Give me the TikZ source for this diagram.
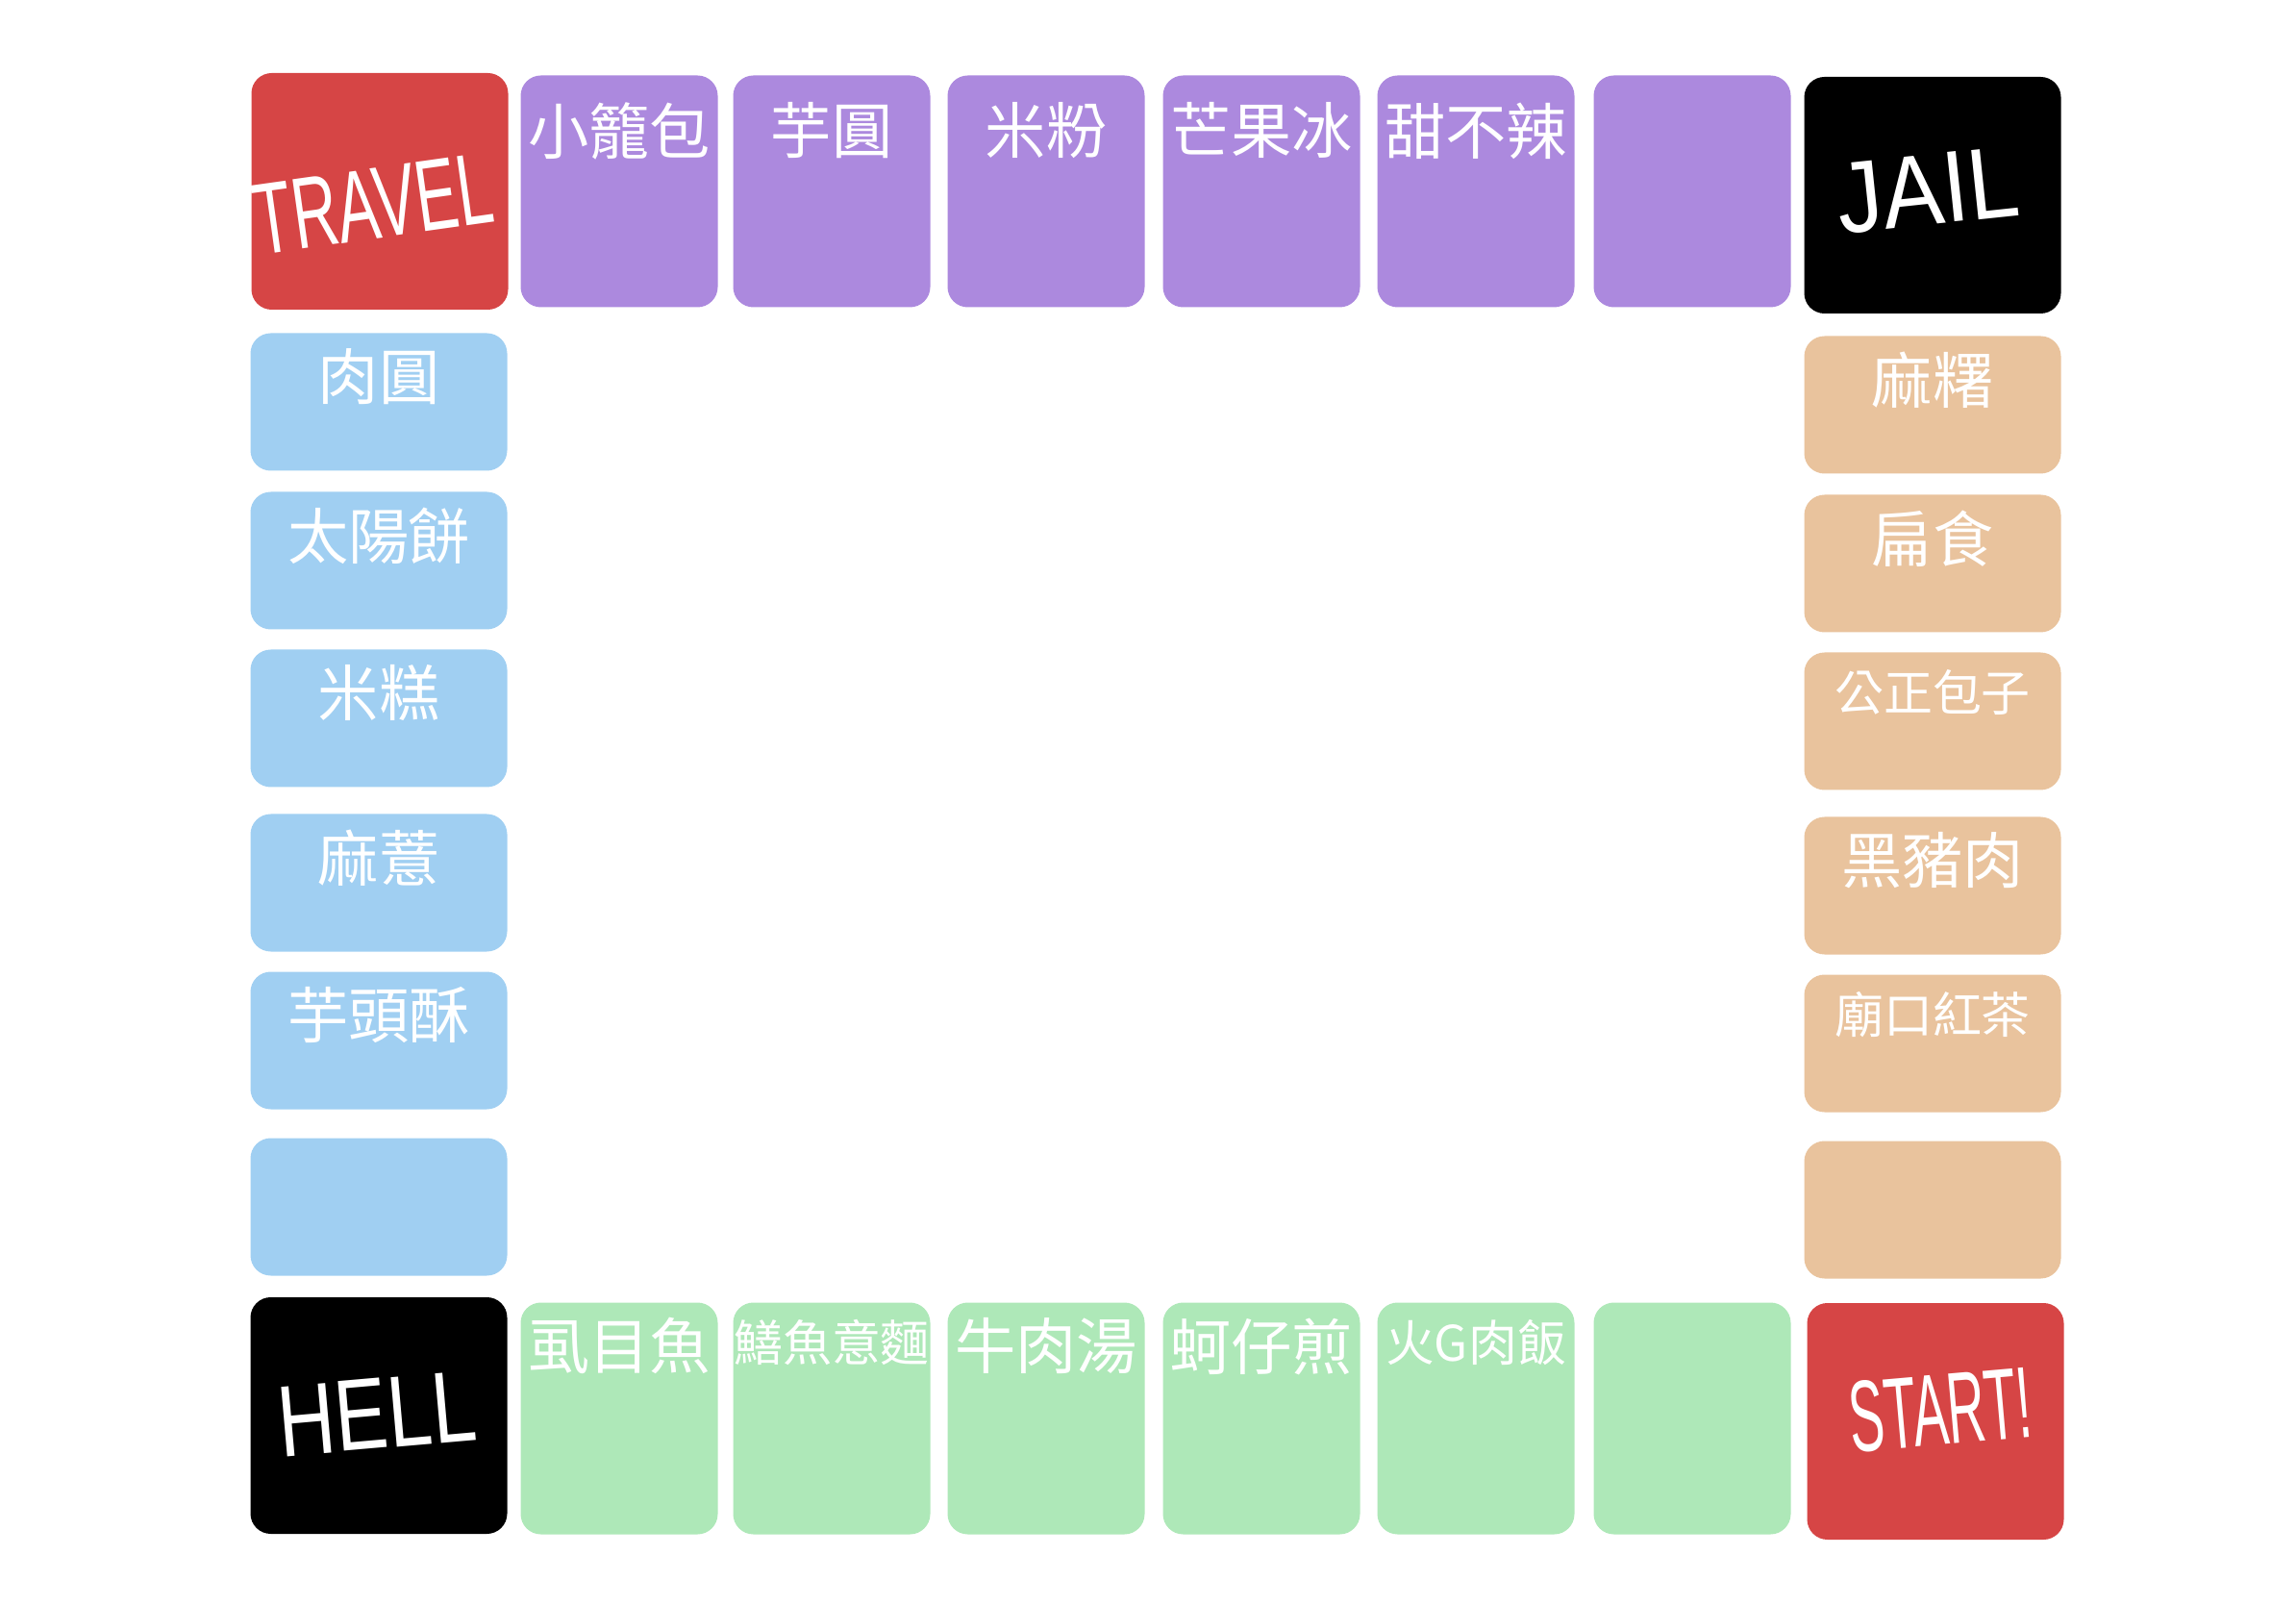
\documentclass[tikz,border=0pt]{standalone}
\usepackage{fontspec}
\usepackage{graphicx}
\usetikzlibrary{positioning}
\newfontfamily\cjk{Noto Sans CJK TC}
\newfontfamily\hand{Liberation Sans}
\definecolor{travelred}{HTML}{D64545}
\definecolor{nightpurple}{HTML}{AC89DE}
\definecolor{skyblue}{HTML}{A0CFF2}
\definecolor{sandorange}{HTML}{E9C39D}
\definecolor{mintgreen}{HTML}{AEE8B8}

\begin{document}
\begin{tikzpicture}[
  tile/.style={rounded corners=6pt, inner sep=0pt},
  rowtile/.style={tile, minimum width=2.05cm, minimum height=2.41cm},
  sidetile/.style={tile, minimum width=2.67cm, minimum height=1.43cm},
  cornertile/.style={tile, minimum width=2.67cm, minimum height=2.46cm},
  food/.style={font=\cjk\fontsize{18}{18}\selectfont, text=white, inner sep=0pt},
  smallfood/.style={food, font=\cjk\fontsize{14.5}{14.5}\selectfont},
  sign/.style={font=\hand\fontsize{30}{30}\selectfont, text=white, inner sep=0pt}
]
\useasboundingbox (0,0) rectangle (23.88,16.68);

% corners
\node[cornertile, fill=travelred] (travel) at (3.95,14.69) {};
\node[cornertile, fill=black] (jail) at (20.10,14.65) {};
\node[cornertile, fill=black] (hell) at (3.94,1.96) {};
\node[cornertile, fill=travelred] (start) at (20.13,1.90) {};

\node[sign, rotate=8] (traveltxt) at (3.88,14.56) {\scalebox{0.62}[1]{TRAVEL}};
\node[sign, rotate=6] (jailtxt) at (20.05,14.70) {\scalebox{0.9}[1]{JAIL}};
\node[sign, rotate=5] (helltxt) at (3.92,1.98) {\scalebox{0.78}[1]{HELL}};
\node[sign, rotate=5] (starttxt) at (20.18,2.02) {\scalebox{0.52}[1]{START!}};

% top row
\node[rowtile, fill=nightpurple] (p1) at (6.44,14.69) {};
\node[rowtile, fill=nightpurple] (p2) at (8.65,14.69) {};
\node[rowtile, fill=nightpurple] (p3) at (10.88,14.69) {};
\node[rowtile, fill=nightpurple] (p4) at (13.12,14.69) {};
\node[rowtile, fill=nightpurple] (p5) at (15.35,14.69) {};
\node[rowtile, fill=nightpurple] (p6) at (17.60,14.69) {};

\node[food, below=0.28cm of p1.north] {小籠包};
\node[food, below=0.28cm of p2.north] {芋圓};
\node[food, below=0.28cm of p3.north] {米粉};
\node[food, below=0.28cm of p4.north] {芒果冰};
\node[food, below=0.28cm of p5.north] {甜不辣};

% left column
\node[sidetile, fill=skyblue] (b1) at (3.94,12.50) {};
\node[sidetile, fill=skyblue] (b2) at (3.94,10.85) {};
\node[sidetile, fill=skyblue] (b3) at (3.94,9.21) {};
\node[sidetile, fill=skyblue] (b4) at (3.94,7.50) {};
\node[sidetile, fill=skyblue] (b5) at (3.94,5.86) {};
\node[sidetile, fill=skyblue] (b6) at (3.94,4.13) {};

\node[food, below=0.16cm of b1.north] {肉圓};
\node[food, below=0.16cm of b2.north] {太陽餅};
\node[food, below=0.16cm of b3.north] {米糕};
\node[food, below=0.16cm of b4.north] {麻薏};
\node[food, below=0.16cm of b5.north] {芋頭酥};

% right column
\node[sidetile, fill=sandorange] (o1) at (20.10,12.47) {};
\node[sidetile, fill=sandorange] (o2) at (20.10,10.82) {};
\node[sidetile, fill=sandorange] (o3) at (20.10,9.18) {};
\node[sidetile, fill=sandorange] (o4) at (20.10,7.47) {};
\node[sidetile, fill=sandorange] (o5) at (20.10,5.83) {};
\node[sidetile, fill=sandorange] (o6) at (20.10,4.10) {};

\node[food, below=0.16cm of o1.north] {麻糬};
\node[food, below=0.16cm of o2.north] {扁食};
\node[smallfood, below=0.18cm of o3.north] {公正包子};
\node[food, below=0.16cm of o4.north] {黑豬肉};
\node[smallfood, below=0.18cm of o5.north] {廟口紅茶};

% bottom row
\node[rowtile, fill=mintgreen] (g1) at (6.44,1.93) {};
\node[rowtile, fill=mintgreen] (g2) at (8.65,1.93) {};
\node[rowtile, fill=mintgreen] (g3) at (10.88,1.93) {};
\node[rowtile, fill=mintgreen] (g4) at (13.12,1.93) {};
\node[rowtile, fill=mintgreen] (g5) at (15.35,1.93) {};
\node[rowtile, fill=mintgreen] (g6) at (17.60,1.93) {};

\node[food, below=0.16cm of g1.north] {虱目魚};
\node[smallfood, below=0.18cm of g2.north] {鱔魚意麵};
\node[food, below=0.16cm of g3.north] {牛肉湯};
\node[food, below=0.16cm of g4.north] {蚵仔煎};
\node[smallfood, below=0.18cm of g5.north] {火G肉飯};
\end{tikzpicture}
\end{document}
